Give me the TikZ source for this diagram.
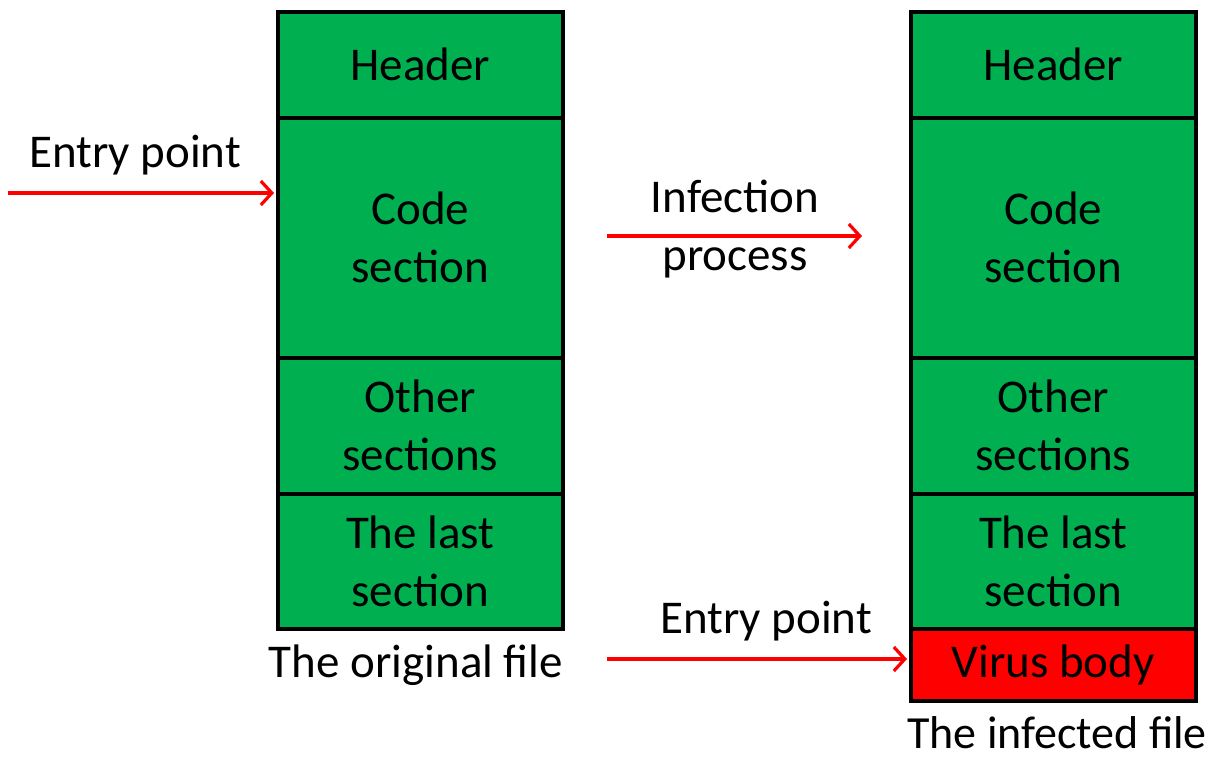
\documentclass[tikz,border=0pt]{standalone}
\usepackage{fontspec}
\setmainfont{Carlito}
\usetikzlibrary{arrows.meta}
\definecolor{secgreen}{HTML}{00B050}
\definecolor{virusred}{HTML}{FF0000}
\begin{document}
\begin{tikzpicture}[x=1pt,y=-1pt,
  txt/.style={font=\fontsize{47}{58}\selectfont, align=center, inner sep=0pt},
  sec/.style={draw=black, line width=3.5pt, fill=secgreen, minimum width=285pt, inner sep=0pt, anchor=north west, font=\fontsize{47}{58}\selectfont, align=center},
  redarrow/.style={draw=virusred, line width=3.2pt, -{Straight Barb[length=11pt,width=24pt,line width=3.2pt]}}
]
\useasboundingbox (0,0) rectangle (1221,761);
% left file
\node[sec, minimum height=106pt] (lh) at (276,10) {Header};
\node[sec, minimum height=240pt] (lc) at (276,116) {Code\\section};
\node[sec, minimum height=136pt] (lo) at (276,356) {Other\\sections};
\node[sec, minimum height=135pt] (ll) at (276,492) {The last\\section};
% right file
\node[sec, minimum height=106pt] (rh) at (909,10) {Header};
\node[sec, minimum height=240pt] (rc) at (909,116) {Code\\section};
\node[sec, minimum height=136pt] (ro) at (909,356) {Other\\sections};
\node[sec, minimum height=135pt] (rl) at (909,492) {The last\\section};
\node[sec, minimum height=72pt, fill=virusred] (rv) at (909,627) {Virus body};
% labels
\node[txt] (ep1) at (135,155) {Entry point};
\node[txt] (inf) at (735,229) {Infection\\process};
\node[txt] (ep2) at (766,621) {Entry point};
\node[txt] (orig) at (416,665) {The original file};
\node[txt, font=\fontsize{46}{58}\selectfont] (infd) at (1057,733) {The infected file};
% arrows
\coordinate (a1s) at (8,193);
\coordinate (a1e) at (274,193);
\coordinate (a2s) at (607,236);
\coordinate (a2e) at (862,236);
\coordinate (a3s) at (607,659);
\coordinate (a3e) at (907,659);
\draw[redarrow] (a1s) -- (a1e);
\draw[redarrow] (a2s) -- (a2e);
\draw[redarrow] (a3s) -- (a3e);
\end{tikzpicture}
\end{document}
